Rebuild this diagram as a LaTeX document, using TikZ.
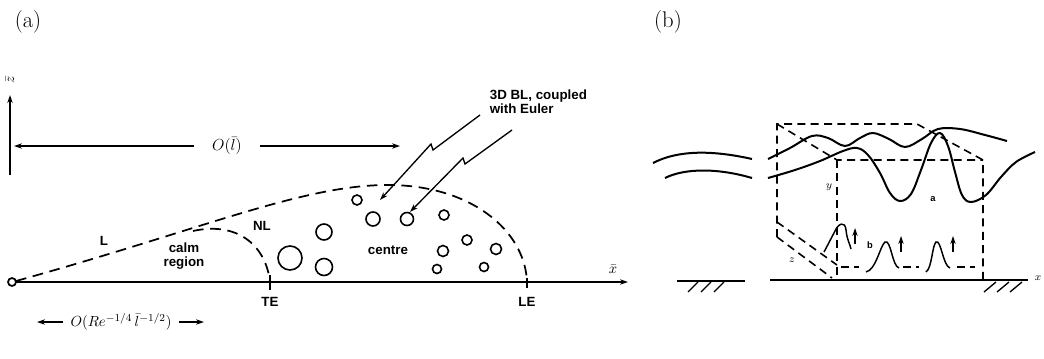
\documentclass[tikz,border=0pt]{standalone}
\usepackage{fontspec}
\setsansfont{Liberation Sans}
\usetikzlibrary{arrows.meta,calc}
\begin{document}
\begin{tikzpicture}[x=0.75pt,y=-0.75pt,line width=1.3pt,
  panel/.style={font=\fontsize{17}{20}\selectfont,inner sep=0pt},
  lab/.style={font=\sffamily\bfseries\fontsize{10}{10.5}\selectfont,inner sep=0pt},
  blab/.style={font=\sffamily\bfseries\fontsize{10}{10.5}\selectfont,inner sep=0pt},
  mlab/.style={font=\fontsize{11}{12}\selectfont,inner sep=0pt},
  slab/.style={font=\fontsize{8}{9}\selectfont,inner sep=0pt},
  dsh/.style={dash pattern=on 8pt off 5pt},
  bdsh/.style={line width=1.2pt,dash pattern=on 6pt off 4pt},
  tip/.style={-{Stealth[length=6pt,width=4pt]}},
  vort/.style={line width=1.1pt},
  wave/.style={line width=1.5pt}]
\useasboundingbox (0,0) rectangle (1044,358);

% ---------- panel labels ----------
\node[panel] (pa) at (28,22) {(a)};
\node[panel] (pb) at (668,22) {(b)};

% ---------- (a) axes ----------
\coordinate (O) at (12,282);
\coordinate (xend) at (628,282);
\draw (O) circle (4);
\draw[tip] ($(O)+(4,0)$) -- (xend);
\node[mlab] (xbar) at (613,269) {$\bar x$};

\coordinate (zb0) at (10,175);
\coordinate (zb1) at (10,95);
\draw[tip] (zb0) -- (zb1);
\node[mlab,rotate=90] (zbar) at (10,80) {$\bar z$};

% scale of the whole layer
\node[font=\fontsize{13}{14}\selectfont,inner sep=0pt,inner xsep=13pt] (ol) at (227,146) {$O(\bar{l})$};
\coordinate (olL) at (14,146);
\coordinate (olR) at (400,146);
\draw[tip] (ol.west) -- (olL);
\draw[tip] (ol.east) -- (olR);

% scale near the tip
\node[mlab,inner xsep=5pt] (orl) at (121,322) {$O(Re^{-1/4}\,\bar{l}^{-1/2})$};
\coordinate (orlL) at (37,322);
\coordinate (orlR) at (204,322);
\draw[tip,line width=1pt] (orl.west) -- (orlL);
\draw[tip,line width=1pt] (orl.east) -- (orlR);

% ---------- (a) layer boundaries ----------
\coordinate (peak) at (385,185);
\coordinate (LE) at (527,282);
\coordinate (TE) at (270,282);
\draw[dsh] ($(O)+(4,-1)$) .. controls (200,230) and (300,186) .. (peak)
  .. controls (470,184) and (525,230) .. (LE);
\draw[dsh] (193,231) .. controls (238,221) and (266,246) .. (TE);
\draw (270,275) -- (270,290);
\draw (527,278) -- (527,288);

\node[lab] (TEl) at (270,302) {TE};
\node[lab] (LEl) at (527,302) {LE};
\node[lab] (Ll) at (104,241) {L};
\node[lab] (NLl) at (262,226) {NL};
\node[lab,align=center] (calm) at (184,256) {calm\\region};
\node[lab] (centre) at (388,250) {centre};

% ---------- (a) vortices ----------
\foreach \cx/\cy/\r in {290/258/12, 324/232/8, 324/267/8.5, 357/200/5,
    373/219/7, 407/219/6.5, 444/215/5, 467/240/5, 443/251/5.5,
    496/249/5.5, 437/269/4.5, 484/267/4.5}
  \draw[line width=1.2pt] (\cx,\cy) circle (\r);

% ---------- (a) callout ----------
\node[blab,anchor=west,align=left] (bl) at (489,102) {3D BL, coupled\\with Euler};
\coordinate (a1s) at (480,115);
\coordinate (a1t) at (380,200);
\coordinate (a2s) at (512,130);
\coordinate (a2t) at (410,212);
\draw[tip,line width=1pt] (a1s) -- (433,150) -- (431,144) -- (a1t);
\draw[tip,line width=1pt] (a2s) -- (465,164) -- (463,158) -- (a2t);

% ---------- (b) wall ----------
\coordinate (w0) at (770,280);
\coordinate (w1) at (1028,280);
\draw (w0) -- (w1);
\node[slab] (xl) at (1038,278) {$x$};
\draw (677,281) -- (745,281);
\foreach \hx in {698,711,724}
  \draw[line width=1pt] (\hx,282) -- ++(-10,10);
\foreach \hx in {996,1009,1022}
  \draw[line width=1pt] (\hx,282) -- ++(-12,10);

% ---------- (b) box ----------
\coordinate (BTL) at (777,124);
\coordinate (BTR) at (917,124);
\coordinate (FTL) at (837,160);
\coordinate (FTR) at (983,160);
\draw[bdsh] (777,237) -- (BTL) -- (BTR) -- (FTR) -- (983,280);
\draw[bdsh] (BTL) -- (FTL) -- (FTR);
\draw[bdsh] (FTL) -- (837,279);
\draw[bdsh] (777,222) -- (837,265);
\draw[bdsh] (777,237) -- (832,278);
\draw[bdsh] (841,267) -- (859,267);
\draw[bdsh] (903,267) -- (919,267);
\draw[bdsh] (957,267) -- (975,267);

\node[slab] (yl) at (829,187) {$y$};
\node[slab] (zl) at (792,260) {$z$};
\node[font=\sffamily\bfseries\fontsize{7}{8}\selectfont,inner sep=0pt] (al) at (933,199) {a};
\node[font=\sffamily\bfseries\fontsize{7}{8}\selectfont,inner sep=0pt] (blb) at (870,245) {b};

% ---------- (b) outer waves ----------
\draw[wave] (653,163) .. controls (678,150) and (712,150) .. (752,159);
\draw[wave] (665,178) .. controls (685,168) and (718,168) .. (752,178);
\draw[wave] plot[smooth,tension=0.6] coordinates {(768,159) (790,148) (812,136)
  (828,138) (845,146) (860,138) (873,133) (889,139) (905,147) (922,139)
  (938,129) (960,129) (985,135) (1007,141)};
\draw[wave] plot[smooth,tension=0.6] coordinates {(768,178) (795,170) (820,161)
  (843,151) (857,148) (868,155) (880,173) (890,193) (900,201) (911,194)
  (921,170) (931,143) (940,133) (948,146) (955,172) (962,195) (971,202)
  (986,195) (1001,177) (1016,162) (1035,152)};

% ---------- (b) near-wall vortices ----------
\draw[vort] (824,252) -- (835,231) .. controls (838,224) and (845,220) .. (846,230)
  .. controls (847,240) and (850,244) .. (851,249);
\draw[vort,tip] (855,244) -- (855,228);
\draw[vort] (866,272) .. controls (876,270) and (880,246) .. (885,242)
  .. controls (891,239) and (892,266) .. (899,268);
\draw[vort,tip] (901,252) -- (901,236);
\draw[vort] (926,272) .. controls (932,268) and (932,246) .. (936,242)
  .. controls (941,239) and (943,266) .. (950,268);
\draw[vort,tip] (953,252) -- (953,236);
\end{tikzpicture}
\end{document}
